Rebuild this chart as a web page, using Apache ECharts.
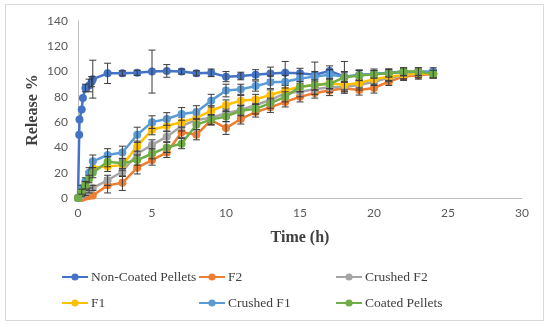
<!DOCTYPE html>
<html>
<head>
<meta charset="utf-8">
<script src="https://cdn.jsdelivr.net/npm/echarts@6/dist/echarts.min.js"></script>
<style>html,body{margin:0;padding:0;background:#fff}#c{width:550px;height:327px}</style>
</head>
<body>
<div id="c"></div>
<script>
// ---- data ----
const timeNC = [0, 0.08, 0.1, 0.25, 0.33, 0.5, 0.75, 0.92, 1, 2, 3, 4, 5, 6, 7, 8, 9, 10, 11, 12, 13, 14, 15, 16, 17, 18, 19, 20, 21, 22, 23, 24];
const time = [0, 0.25, 0.5, 0.75, 1, 2, 3, 4, 5, 6, 7, 8, 9, 10, 11, 12, 13, 14, 15, 16, 17, 18, 19, 20, 21, 22, 23, 24];

const nonCoated = [0, 50, 62, 70, 79, 87, 89, 92, 94, 98.6, 98.6, 99, 100, 100.5, 100, 98.6, 99, 96, 96.5, 97.5, 98.5, 99, 98.6, 97.5, 100.5, 96, 97.3, 98, 99, 100, 99, 98.6];
const errNonCoated = [0, 0, 0, 0, 0, 3, 5, 4, 15, 8, 2, 2, 17, 5, 2, 2, 3, 4, 3, 4, 5, 9, 4, 10, 4, 12, 4, 4, 3, 3, 3, 3];

const f2 = [0, 0, 1, 1.5, 2, 10, 12, 24, 30, 36, 52, 50, 61.7, 55.3, 62.5, 68, 71.7, 76, 80, 83, 85, 86.8, 85.4, 87, 92, 96, 97, 98];
const errF2 = [0, 0, 0, 0, 0, 6, 6, 5, 4, 4, 4, 4, 4, 5, 4, 4, 4, 4, 4, 4, 4, 4, 4, 4, 3, 3, 3, 3];

const crushedF2 = [0, 2, 4, 6, 8, 14, 21, 35, 42, 48.5, 57, 61.7, 63.5, 67, 69.6, 73.6, 77.5, 83, 84, 86, 87.6, 88, 89.4, 92, 95, 97, 98, 98];
const errCrushedF2 = [0, 1, 2, 2, 2, 4, 4, 4, 4, 4, 4, 4, 4, 4, 4, 4, 4, 4, 4, 4, 4, 4, 4, 3, 3, 3, 3, 3];

const f1 = [0, 6, 12, 18, 24, 25, 26, 41, 54, 57, 60, 63.5, 69, 73.6, 77, 78, 81.5, 85, 88, 89.4, 90.7, 89.5, 91, 94, 96, 97.3, 98.6, 98];
const errF1 = [0, 2, 2, 3, 4, 4, 4, 4, 4, 4, 4, 4, 4, 4, 4, 4, 4, 4, 4, 4, 4, 4, 4, 4, 3, 3, 3, 3];

const crushedF1 = [0, 8, 13, 20, 29, 34, 36, 50, 60, 62.5, 66.5, 68, 77, 85, 86, 88.5, 91.5, 92, 94.5, 96, 97.5, 96, 97, 98, 99, 99.5, 100, 100];
const errCrushedF1 = [0, 2, 3, 4, 5, 5, 5, 6, 5, 5, 5, 5, 5, 5, 4, 4, 5, 5, 4, 4, 4, 4, 4, 3, 3, 3, 3, 3];

const coated = [0, 5, 10, 15, 20, 28.7, 27.4, 30, 35, 40, 43, 58, 62, 64.5, 69, 70.5, 75, 80, 88, 89.4, 90.3, 95.5, 96.8, 97.8, 98.6, 100, 100, 98];
const errCoated = [0, 2, 3, 3, 4, 4, 4, 4, 4, 4, 4, 4, 4, 4, 4, 4, 4, 4, 4, 4, 4, 4, 4, 3, 3, 3, 3, 3];

const xTicks = {min: 0, max: 30, step: 5};
const yTicks = {min: 0, max: 140, step: 20};

const seriesDefs = [
  {name: 'Non-Coated Pellets', t: timeNC, v: nonCoated, e: errNonCoated, color: '#4472C4'},
  {name: 'F2', t: time, v: f2, e: errF2, color: '#ED7D31'},
  {name: 'Crushed F2', t: time, v: crushedF2, e: errCrushedF2, color: '#A5A5A5'},
  {name: 'F1', t: time, v: f1, e: errF1, color: '#FFC000'},
  {name: 'Crushed F1', t: time, v: crushedF1, e: errCrushedF1, color: '#5B9BD5'},
  {name: 'Coated Pellets', t: time, v: coated, e: errCoated, color: '#70AD47'}
];

// ---- chart ----
const chart = echarts.init(document.getElementById('c'), null, {renderer: 'canvas'});
const serif = '"Liberation Serif", "DejaVu Serif", serif';

const series = [];
seriesDefs.forEach((s, k) => {
  series.push({
    name: s.name, type: 'line', data: s.t.map((t, i) => [t, s.v[i]]),
    symbol: 'circle', symbolSize: 8, showSymbol: true,
    lineStyle: {color: s.color, width: 2.5}, itemStyle: {color: s.color},
    z: 2 + k * 2, animation: false
  });
  series.push({
    type: 'custom', name: s.name + ' err', silent: true, animation: false,
    data: s.t.map((t, i) => [t, s.v[i], s.e[i]]),
    z: 3 + k * 2,
    renderItem: function (params, api) {
      const x = api.value(0), y = api.value(1), e = api.value(2);
      if (!e) return;
      const top = api.coord([x, y + e]);
      const bot = api.coord([x, y - e]);
      const w = 3.5;
      const st = {stroke: '#3a3a3a', lineWidth: 1};
      return {type: 'group', children: [
        {type: 'line', shape: {x1: top[0], y1: top[1], x2: bot[0], y2: bot[1]}, style: st},
        {type: 'line', shape: {x1: top[0] - w, y1: top[1], x2: top[0] + w, y2: top[1]}, style: st},
        {type: 'line', shape: {x1: bot[0] - w, y1: bot[1], x2: bot[0] + w, y2: bot[1]}, style: st}
      ]};
    }
  });
});

const legPos = [
  {left: 61, top: 270}, {left: 198, top: 270}, {left: 335, top: 270},
  {left: 61, top: 296}, {left: 198, top: 296}, {left: 335, top: 296}
];
const legends = seriesDefs.map((s, i) => ({
  data: [s.name], left: legPos[i].left, top: legPos[i].top,
  itemWidth: 26, itemHeight: 9, itemGap: 4, padding: 0,
  textStyle: {fontFamily: serif, fontSize: 13.5, color: '#404040', padding: [0, 0, 0, -2]}
}));

chart.setOption({
  animation: false,
  backgroundColor: '#fff',
  grid: {left: 78, right: 28, top: 21, bottom: 129, containLabel: false},
  xAxis: {
    type: 'value', min: xTicks.min, max: xTicks.max, interval: xTicks.step,
    axisLine: {show: true, lineStyle: {color: '#bfbfbf', width: 1}},
    axisTick: {show: false}, splitLine: {show: false},
    axisLabel: {color: '#595959', fontFamily: 'Lato, "Open Sans", sans-serif', fontSize: 12, margin: 9}
  },
  yAxis: {
    type: 'value', min: yTicks.min, max: yTicks.max, interval: yTicks.step,
    axisLine: {show: true, lineStyle: {color: '#bfbfbf', width: 1}},
    axisTick: {show: false}, splitLine: {show: false},
    axisLabel: {color: '#595959', fontFamily: 'Lato, "Open Sans", sans-serif', fontSize: 12, margin: 10}
  },
  legend: legends,
  series: series,
  graphic: [
    {type: 'rect', shape: {x: 5.5, y: 4.5, width: 538, height: 316}, style: {fill: 'none', stroke: '#d9d9d9', lineWidth: 1}, z: -1},
    {type: 'text', x: 33, y: 110, rotation: Math.PI / 2,
     style: {text: 'Release %', font: 'bold 16px ' + serif, fill: '#404040', textAlign: 'center', textVerticalAlign: 'middle'}},
    {type: 'text', x: 300, y: 238,
     style: {text: 'Time (h)', font: 'bold 16px ' + serif, fill: '#404040', textAlign: 'center', textVerticalAlign: 'middle'}}
  ]
});
</script>
</body>
</html>
